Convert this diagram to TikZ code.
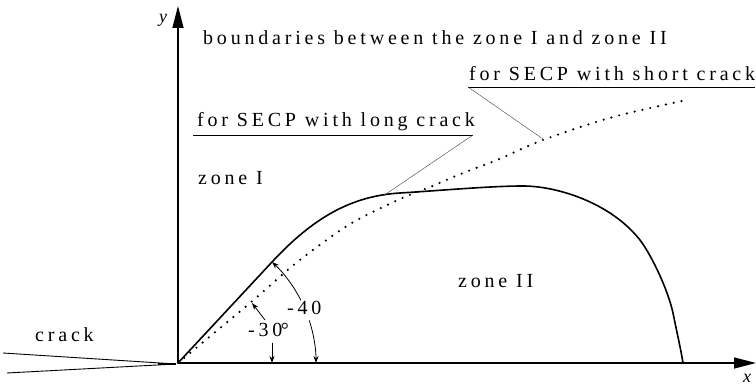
\documentclass[tikz,border=0pt]{standalone}
\usepackage{fontspec}
\setmainfont{Liberation Serif}
\newfontfamily\lab{Liberation Serif}[LetterSpace=19]
\usetikzlibrary{arrows.meta,calc}
\begin{document}
\begin{tikzpicture}[x=1pt,y=-1pt,
 txt/.style={font=\lab\fontsize{20}{24}\selectfont, inner sep=0pt, anchor=base west},
 axlab/.style={font=\fontsize{18}{20}\selectfont\itshape, inner sep=0pt},
 axis/.style={line width=1.4pt, -{Triangle[length=22pt,width=11pt]}},
 bound/.style={line width=1.6pt, line join=round},
 dotb/.style={line width=2.4pt, line cap=round, dash pattern=on 0pt off 8pt},
 leader/.style={line width=0.45pt, black!70},
 uline/.style={line width=0.8pt},
 ang/.style={line width=0.8pt},
 tipend/.style={-{Stealth[length=7pt,width=5pt]}},
 tipstart/.style={{Stealth[length=7pt,width=5pt]}-},
 crackl/.style={line width=0.9pt}
]
\useasboundingbox (0,0) rectangle (756,390);
% axes
\coordinate (O) at (178,363);
\coordinate (Ytip) at (178,6);
\coordinate (Xtip) at (756,363);
\draw[axis] (O) -- (Ytip);
\draw[axis] (O) -- (Xtip);
\node[axlab] (ylab) at (163,20) {y};
\node[axlab] (xlab) at (747,378) {x};
% crack
\coordinate (cA) at (3,353);
\coordinate (cB) at (7,373);
\coordinate (cT) at (176,364);
\draw[crackl] (cA) -- (cT) -- (cB);
\draw[line width=1.6pt] (158,364) -- (cT);
\node[txt] (crk) at (35,342) {crack};
% solid boundary (long crack)
\draw[bound] (O) -- (272,262)
  .. controls (312,219) and (350,196) .. (400,193)
  .. controls (440,190.6) and (490,186) .. (523,186)
  .. controls (556,186) and (610,202) .. (640,240)
  .. controls (652,256) and (668,290) .. (673,313)
  .. controls (677,333) and (681,350) .. (683,363);
% dotted boundary (short crack)
\draw[dotb] plot[smooth, tension=0.55] coordinates {(178,363) (250,303) (290,268) (317,247) (350,224) (383,207) (407,196) (430,187) (463,173) (497,160) (543,140) (613,117) (687,100)};
% texts
\node[txt] (bnd) at (203,45) {boundaries between the zone I and zone II};
\node[txt] (long) at (197,127) {for SECP with long crack};
\node[txt] (short) at (469,81) {for SECP with short crack};
\node[txt] (z1) at (198,185) {zone I};
\node[txt] (z2) at (458,288) {zone II};
% underlines and leaders
\coordinate (ulA) at (193,135);
\coordinate (ulB) at (473,135);
\coordinate (lpA) at (383,196);
\draw[uline] (ulA) -- (ulB);
\draw[leader] (ulB) -- (lpA);
\coordinate (usA) at (468,87);
\coordinate (usB) at (755,87);
\coordinate (lpB) at (543,139);
\draw[uline] (usA) -- (usB);
\draw[leader] (usA) -- (lpB);
% angles
\node[txt] (a40) at (287,315) {-40};
\node[txt] (a30) at (248,337) {-30\kern-1.5pt°};
\draw[ang, tipstart] (272,262) arc[start angle=47.06, end angle=27, radius=138pt];
\draw[ang, tipend] ($(O)+(18:138pt)$) arc[start angle=18, end angle=0, radius=138pt];
\draw[ang, tipend] (265,320) -- (252,303);
\draw[ang, tipend] (272,343) -- (272,363);
\end{tikzpicture}
\end{document}
